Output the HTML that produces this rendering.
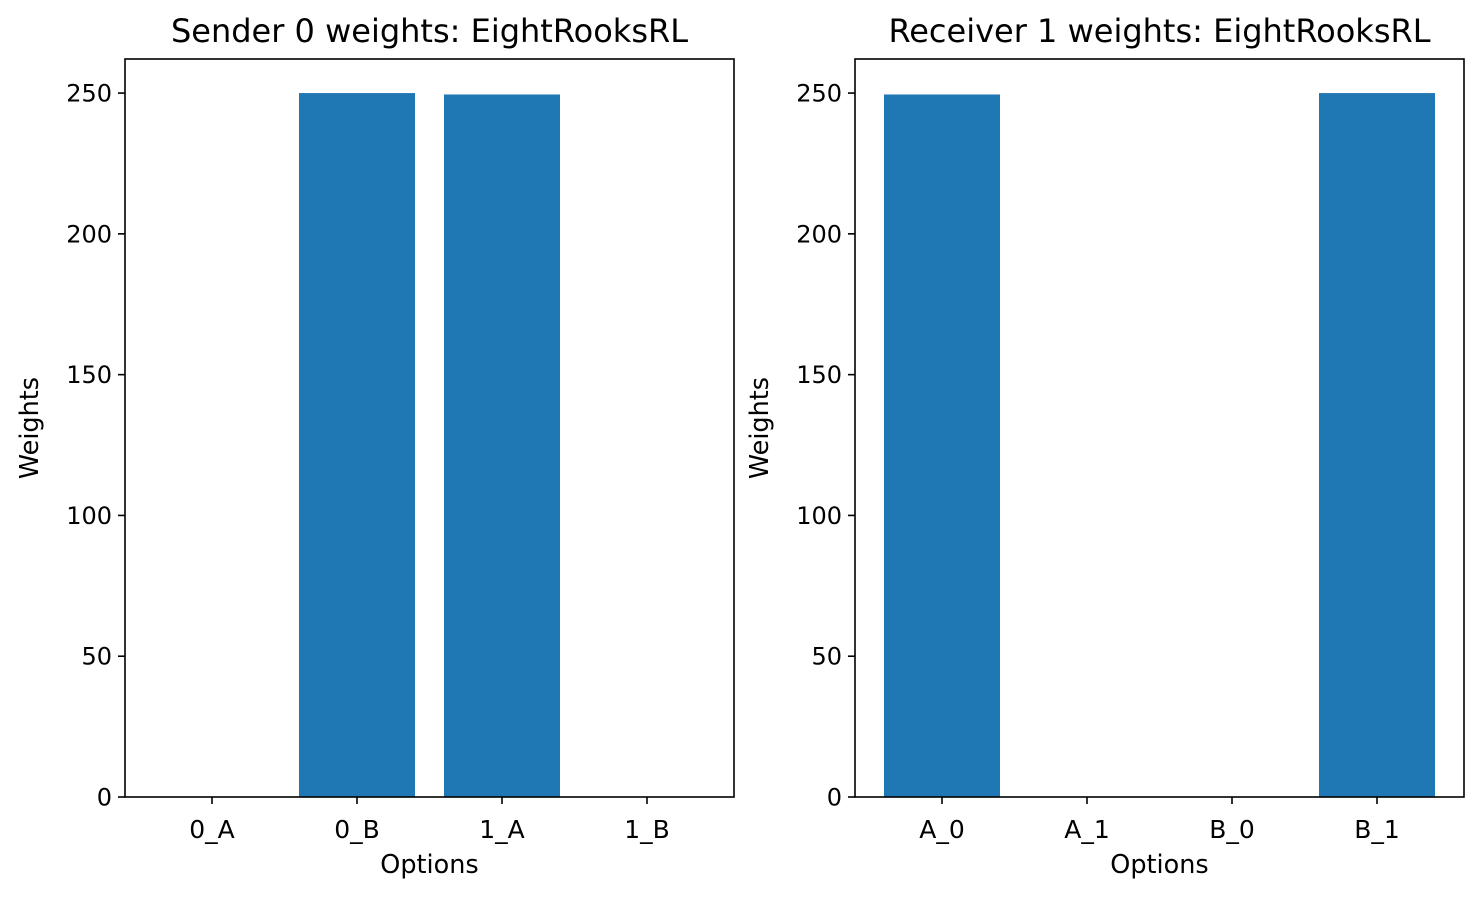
<!DOCTYPE html>
<html><head><meta charset="utf-8"><style>
html,body{margin:0;padding:0;background:#fff;}
svg{display:block;font-family:"DejaVu Sans","Liberation Sans",sans-serif;}
</style></head><body>
<svg id="chart" width="1483" height="898"></svg>
<script>
const leftCategories = ["0_A","0_B","1_A","1_B"];
const leftValues = [0, 250, 249.5, 0];
const rightCategories = ["A_0","A_1","B_0","B_1"];
const rightValues = [249.5, 0, 0, 250];
const yTicks = [0, 50, 100, 150, 200, 250];
const leftTitle = "Sender 0 weights: EightRooksRL";
const rightTitle = "Receiver 1 weights: EightRooksRL";

const NS = "http://www.w3.org/2000/svg";
const svg = document.getElementById("chart");
function mk(tag, attrs, parent, text){
  const e = document.createElementNS(NS, tag);
  for (const k in attrs) e.setAttribute(k, attrs[k]);
  if (text !== undefined) e.textContent = text;
  (parent || svg).appendChild(e);
  return e;
}
function panel(x0, name, title, cats, vals){
  const top = 59, bottom = 797, w = 609;
  const g = mk("g", {});
  
  
  const xs = v => x0 + (v + 0.6) / 4.2 * w;
  const ys = v => bottom - v / 262.1 * (bottom - top);
  vals.forEach((v, i) => {
    const r = mk("rect", {x: xs(i - 0.4), y: ys(v), width: xs(0.4) - xs(-0.4), height: bottom - ys(v), fill: "#1f77b4"}, g);
    
    
  });
  mk("rect", {x: x0, y: top, width: w, height: bottom - top, fill: "none", stroke: "#000", "stroke-width": 1.6}, g);
  yTicks.forEach(t => {
    const y = ys(t);
    mk("line", {x1: x0 - 7, x2: x0, y1: y, y2: y, stroke: "#000", "stroke-width": 1.6}, g);
    const tx = mk("text", {x: x0 - 13, y: y + 8.5, "text-anchor": "end", style: "font-size:24px"}, g, String(t));
    
    
  });
  cats.forEach((c, i) => {
    const x = xs(i);
    mk("line", {x1: x, x2: x, y1: bottom, y2: bottom + 7, stroke: "#000", "stroke-width": 1.6}, g);
    const tx = mk("text", {x: x, y: 838, "text-anchor": "middle", style: "font-size:25px"}, g, c);
    
    
  });
  const xl = mk("text", {x: x0 + w / 2, y: 873, "text-anchor": "middle", style: "font-size:25.5px"}, g, "Options");
  
  
  const yl = mk("text", {x: 0, y: 0, "text-anchor": "middle", style: "font-size:25.5px", transform: `translate(${x0 - 87},${(top + bottom) / 2}) rotate(-90)`}, g, "Weights");
  
  
  const tt = mk("text", {x: x0 + w / 2, y: 42, "text-anchor": "middle", style: "font-size:32px"}, g, title);
  
  
}
panel(125, "sender-panel", leftTitle, leftCategories, leftValues);
panel(855, "receiver-panel", rightTitle, rightCategories, rightValues);
</script>
</body></html>
